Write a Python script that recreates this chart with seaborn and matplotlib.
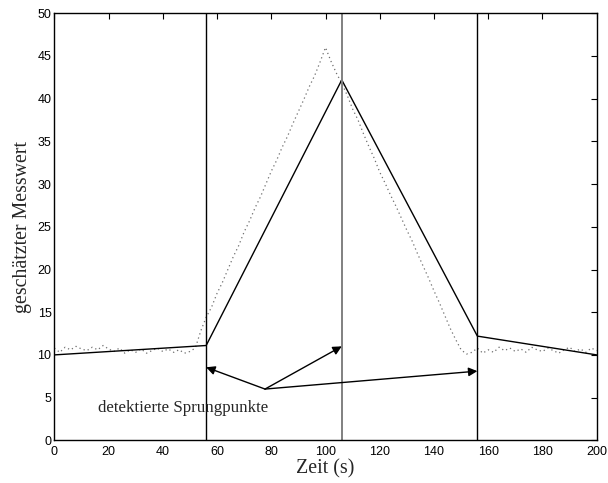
import matplotlib
matplotlib.use("Agg")
import matplotlib.pyplot as plt
import seaborn as sns
import pandas as pd

# Estimated change-point fit (segment end points)
fit_t = [0, 56, 106, 156, 200]
fit_v = [10.0, 11.1, 42.2, 12.2, 10.0]

# Measured signal, sampled every 2 s
meas_t = list(range(0, 201, 2))
meas_v = [
    10.8, 10.3, 10.9, 10.6, 11.0, 10.7, 10.5, 10.9, 10.6, 11.1,
    10.7, 10.4, 10.8, 10.2, 10.6, 10.3, 10.7, 10.2, 10.5, 10.8,
    10.4, 10.7, 10.3, 10.6, 10.2, 10.4,
    10.8, 12.8, 14.4, 15.6, 17.2, 18.5, 20.0, 21.5, 22.8, 24.4,
    25.7, 27.2, 28.5, 30.0, 31.5, 32.8, 34.3, 35.6, 37.1, 38.5,
    39.9, 41.4, 42.7, 44.3, 46.0,
    44.4, 43.0, 41.8, 40.4, 38.8, 37.5, 35.9, 34.4, 33.0, 31.4,
    30.1, 28.7, 27.4, 26.0, 24.6, 23.3, 21.8, 20.4, 19.0, 17.5,
    16.1, 14.6, 13.1, 11.8, 10.6, 10.1,
    10.3, 10.8, 10.2, 10.6, 10.3, 10.9, 10.5, 10.8, 10.4, 10.7,
    10.3, 10.9, 10.6, 10.4, 10.8, 10.5, 10.2, 10.6, 10.9, 10.4,
    10.7, 10.3, 10.8, 10.5,
]

# Detected change points and the annotation anchor
change_points = [56, 106, 156]
arrow_tips_y = [8.55, 11.0, 8.1]
arrow_origin = (77.7, 6.0)
note_text = "detektierte Sprungpunkte"

x_ticks = list(range(0, 201, 20))
y_ticks = list(range(0, 51, 5))

sns.set_style("white")
plt.rcParams["font.family"] = ["Liberation Sans", "DejaVu Sans"]
serif = ["Liberation Serif", "DejaVu Serif"]

fig = plt.figure(figsize=(6.08, 4.83), dpi=100)
ax = fig.add_axes([54.3 / 608, 1 - 440.3 / 483, (596.7 - 54.3) / 608, (440.3 - 13.3) / 483])

meas_df = pd.DataFrame({"t": meas_t, "v": meas_v})
fit_df = pd.DataFrame({"t": fit_t, "v": fit_v})

sns.lineplot(data=meas_df, x="t", y="v", ax=ax, color="#6e6e6e",
             linestyle=(0, (1, 2.5)), linewidth=0.9, estimator=None, sort=False)
sns.lineplot(data=fit_df, x="t", y="v", ax=ax, color="black",
             linewidth=1.0, estimator=None, sort=False)

for i, cp in enumerate(change_points):
    ax.axvline(cp, color="#808080" if i == 1 else "black",
               linewidth=1.4 if i == 1 else 1.0)

for cp, ty in zip(change_points, arrow_tips_y):
    ax.annotate("", xy=(cp, ty), xytext=arrow_origin,
                arrowprops=dict(arrowstyle="-|>", color="black", lw=1.0,
                                mutation_scale=13, shrinkA=0, shrinkB=0))

ax.text(16.1, 3.3, note_text, family=serif, fontsize=12.2,
        ha="left", va="baseline")

ax.set_xlim(0, 200)
ax.set_ylim(0, 50)
ax.set_xticks(x_ticks)
ax.set_yticks(y_ticks)
ax.tick_params(direction="in", top=True, right=True, length=4, width=0.8,
               labelsize=9, colors="black")
ax.tick_params(axis="x", pad=4)
ax.tick_params(axis="y", pad=2)
for s in ax.spines.values():
    s.set_visible(True)
    s.set_color("black")
    s.set_linewidth(1.0)

ax.set_xlabel("Zeit (s)", family=serif, fontsize=14.4, labelpad=1)
ax.set_ylabel("geschätzter Messwert", family=serif, fontsize=14.3, labelpad=4)

fig.savefig("out.png", dpi=100, facecolor="white")
